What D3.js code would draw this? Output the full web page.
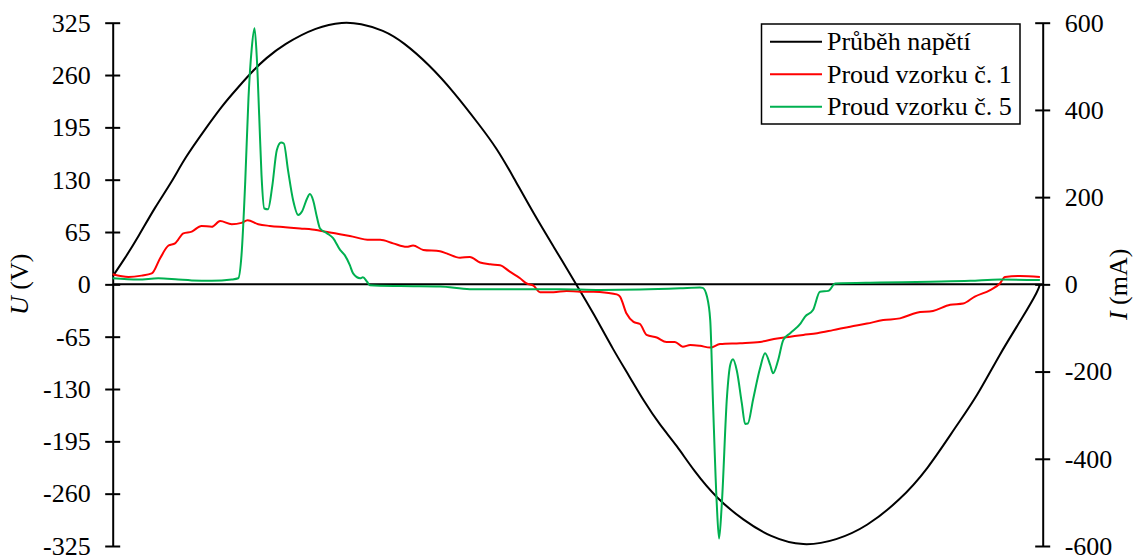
<!DOCTYPE html>
<html>
<head>
<meta charset="utf-8">
<script src="https://cdn.jsdelivr.net/npm/d3@7"></script>
<style>
  body { margin: 0; background: #fff; }
  svg { font-family: "Liberation Serif", "Times New Roman", serif; }
</style>
</head>
<body>
<svg width="1133" height="558"></svg>
<script>
// cas v ms (jedna perioda 50 Hz) + hodnoty
const napetiT = [0, 0.26, 0.55, 0.91, 1.27, 1.55, 1.98, 2.34, 2.70, 3.06, 3.28, 3.67, 4.39, 4.96, 5.32, 5.82, 6.25, 6.82, 7.32, 7.90, 8.26, 8.61, 9.05, 9.48, 9.98, 10.34, 10.77, 11.12, 11.41, 11.77, 12.13, 12.49, 12.99, 13.56, 14.14, 14.85, 15.57, 16.22, 16.93, 17.51, 18.15, 18.58, 19.08, 19.58, 19.91, 19.94]
const napetiU = [10, 32, 59, 96, 127, 157, 192, 221, 245, 268, 280, 298, 320, 326, 324, 316, 301, 272, 240, 197, 169, 134, 88, 47, -1, -36, -82, -115, -144, -175, -200, -231, -266, -293, -314, -326, -318, -301, -268, -231, -175, -140, -86, -40, -7, 0]

const vz1T = [0, 0.34, 0.62, 0.84, 1.02, 1.20, 1.34, 1.52, 1.70, 1.91, 2.13, 2.31, 2.56, 2.77, 2.90, 3.13, 3.38, 3.71, 4.03, 4.29, 4.46, 4.78, 5.10, 5.53, 5.75, 6.03, 6.32, 6.46, 6.68, 7.04, 7.18, 7.47, 7.68, 7.90, 8.12, 8.33, 8.54, 8.76, 8.90, 9.05, 9.19, 9.48, 9.76, 10.05, 10.34, 10.62, 10.84, 10.91, 11.05, 11.20, 11.34, 11.48, 11.70, 11.91, 12.09, 12.26, 12.42, 12.63, 12.85, 13.06, 13.49, 13.92, 14.29, 14.57, 14.85, 15.15, 15.49, 15.86, 16.22, 16.57, 16.93, 17.29, 17.64, 18.01, 18.29, 18.54, 18.87, 19.08, 19.19, 19.51, 19.94]
const vz1I = [23, 17, 20, 25, 60, 89, 94, 117, 121, 134, 132, 145, 138, 141, 147, 138, 134, 131, 128, 126, 123, 117, 111, 102, 102, 94, 86, 89, 79, 76, 71, 61, 63, 50, 46, 44, 29, 14, 2, -3, -18, -18, -15, -17, -17, -19, -23, -28, -67, -86, -91, -116, -122, -132, -132, -143, -139, -141, -145, -137, -135, -132, -124, -120, -116, -112, -105, -97, -90, -82, -78, -65, -61, -47, -44, -28, -13, 2, 17, 19, 17]

const vz5T = [0, 0.55, 0.98, 1.41, 1.70, 2.13, 2.56, 2.70, 2.77, 2.85, 2.92, 2.99, 3.05, 3.10, 3.15, 3.20, 3.26, 3.34, 3.43, 3.53, 3.62, 3.68, 3.77, 3.88, 3.99, 4.07, 4.18, 4.24, 4.31, 4.39, 4.46, 4.61, 4.74, 4.89, 4.99, 5.10, 5.17, 5.32, 5.38, 5.47, 5.53, 6.18, 7.04, 7.68, 8.76, 9.62, 10.48, 11.34, 12.20, 12.63, 12.69, 12.78, 12.85, 12.91, 12.99, 13.04, 13.10, 13.21, 13.28, 13.34, 13.42, 13.53, 13.60, 13.66, 13.77, 13.92, 14.03, 14.14, 14.20, 14.31, 14.42, 14.57, 14.79, 14.89, 15.06, 15.21, 15.39, 15.54, 16.50, 17.58, 18.44, 19.08, 19.94]
const vz5I = [14, 11, 14, 11, 9, 8, 11, 14, 67, 235, 427, 541, 587, 518, 388, 251, 174, 172, 224, 308, 325, 323, 262, 193, 159, 167, 197, 207, 193, 155, 128, 117, 106, 79, 67, 44, 25, 14, 16, 6, -2, -4, -5, -11, -11, -11, -13, -12, -9, -7, -8, -28, -82, -272, -502, -583, -502, -258, -185, -172, -197, -273, -320, -319, -265, -193, -158, -185, -204, -174, -128, -112, -90, -74, -59, -17, -15, 2, 4, 6, 8, 11, 10]

const uTicks = [-325, -260, -195, -130, -65, 0, 65, 130, 195, 260, 325]
const iTicks = [-600, -400, -200, 0, 200, 400, 600]
const legendNames = ["Průběh napětí", "Proud vzorku č. 1", "Proud vzorku č. 5"]
const barvy = ["#000000", "#ff0000", "#00b050"]

const pLeft = 112.7, pRight = 1042.7, pTop = 22.7, pBottom = 546

const svg = d3.select("svg")
const xScale = d3.scaleLinear().domain([0, 20]).range([pLeft, pRight])
const yU = d3.scaleLinear().domain([-325, 325]).range([pBottom, pTop])
const yI = d3.scaleLinear().domain([-600, 600]).range([pBottom, pTop])

const toPts = (ts, vs) => ts.map((t, i) => [t, vs[i]])
// napeti je hladka sinusovka -> basis vyhladi chyby odectu
const lineU = d3.line().x(d => xScale(d[0])).y(d => yU(d[1])).curve(d3.curveBasis)
const lineI = d3.line().x(d => xScale(d[0])).y(d => yI(d[1])).curve(d3.curveMonotoneX)

// osa x (nula)
svg.append("line")
	.attr("x1", pLeft).attr("x2", pRight)
	.attr("y1", yU(0)).attr("y2", yU(0))
	.attr("stroke", "#000").attr("stroke-width", 2)

// leva osa U
const axL = svg.append("g").attr("transform", `translate(${pLeft},0)`)
	.call(d3.axisLeft(yU).tickValues(uTicks).tickSizeOuter(0).tickFormat(d => String(d)))
axL.selectAll(".tick line").attr("x1", -7.5).attr("x2", 7.5).attr("stroke-width", 2)
axL.selectAll(".tick text").attr("x", -22).attr("font-size", 26).attr("font-family", "Liberation Serif").attr("fill", "#000")
axL.select(".domain").attr("stroke-width", 2)

// prava osa I
const axR = svg.append("g").attr("transform", `translate(${pRight},0)`)
	.call(d3.axisRight(yI).tickValues(iTicks).tickSizeOuter(0).tickFormat(d => String(d)))
axR.selectAll(".tick line").attr("x1", -7.5).attr("x2", 7.5).attr("stroke-width", 2)
axR.selectAll(".tick text").attr("x", 22).attr("font-size", 26).attr("font-family", "Liberation Serif").attr("fill", "#000")
axR.select(".domain").attr("stroke-width", 2)

// krivky
svg.append("path").attr("d", lineU(toPts(napetiT, napetiU)))
	.attr("fill", "none").attr("stroke", barvy[0]).attr("stroke-width", 2)
svg.append("path").attr("d", lineI(toPts(vz1T, vz1I)))
	.attr("fill", "none").attr("stroke", barvy[1]).attr("stroke-width", 2)
svg.append("path").attr("d", lineI(toPts(vz5T, vz5I)))
	.attr("fill", "none").attr("stroke", barvy[2]).attr("stroke-width", 2)

// popisky os
const tU = svg.append("text")
	.attr("transform", `translate(28,${(pTop + pBottom) / 2}) rotate(-90)`)
	.attr("text-anchor", "middle").attr("font-size", 26)
tU.append("tspan").attr("font-style", "italic").text("U")
tU.append("tspan").text(" (V)")

const tI = svg.append("text")
	.attr("transform", `translate(1127,${(pTop + pBottom) / 2}) rotate(-90)`)
	.attr("text-anchor", "middle").attr("font-size", 26)
tI.append("tspan").attr("font-style", "italic").text("I")
tI.append("tspan").text(" (mA)")

// legenda
const leg = svg.append("g")
leg.append("rect").attr("x", 761.5).attr("y", 24).attr("width", 258.5).attr("height", 100)
	.attr("fill", "#fff").attr("stroke", "#000").attr("stroke-width", 1.5)
legendNames.forEach((name, i) => {
	const y = 41.7 + i * 32.5
	leg.append("line").attr("x1", 770).attr("x2", 822).attr("y1", y).attr("y2", y)
		.attr("stroke", barvy[i]).attr("stroke-width", 2)
	leg.append("text").attr("x", 827).attr("y", y).attr("dy", "0.33em")
		.attr("font-size", 26).text(name)
})
</script>
</body>
</html>
